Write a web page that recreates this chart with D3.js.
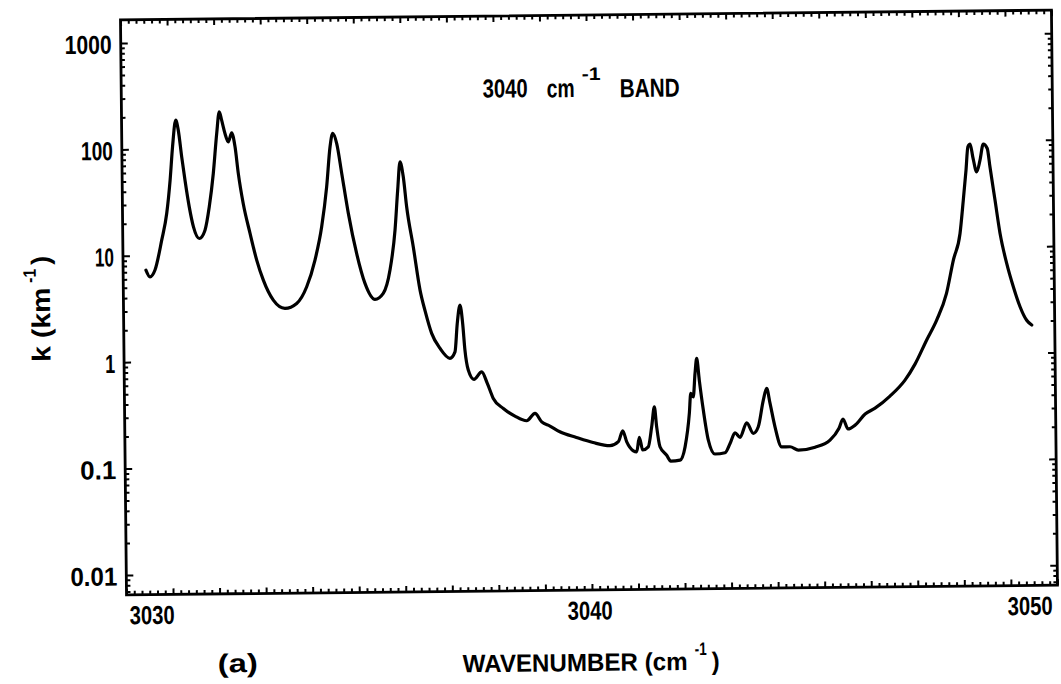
<!DOCTYPE html>
<html>
<head>
<meta charset="utf-8">
<script src="https://cdn.jsdelivr.net/npm/d3@7"></script>
<style>
  html, body { margin: 0; padding: 0; background: #fff; }
  svg { display: block; }
  text { font-family: "Liberation Sans", Arial, sans-serif; font-weight: bold; fill: #000; }
</style>
</head>
<body>
<svg id="chart" width="1061" height="684"></svg>
<script>
// Absorption coefficient spectrum of the 3040 cm-1 band
const wavenumber = [
  3030.49, 3030.576, 3030.685, 3030.836, 3030.95, 3031.03, 3031.09, 3031.164, 3031.216, 3031.284,
  3031.349, 3031.435, 3031.521, 3031.643, 3031.768, 3031.865, 3031.959, 3032.041, 3032.101, 3032.15,
  3032.219, 3032.288, 3032.363, 3032.432, 3032.496, 3032.595, 3032.735, 3032.872, 3033.01, 3033.22,
  3033.469, 3033.721, 3033.94, 3034.124, 3034.275, 3034.391, 3034.473, 3034.533, 3034.617, 3034.718,
  3034.851, 3035.02, 3035.193, 3035.404, 3035.583, 3035.733, 3035.85, 3035.916, 3035.972, 3036.039,
  3036.105, 3036.238, 3036.374, 3036.479, 3036.614, 3036.788, 3037.001, 3037.111, 3037.166, 3037.229,
  3037.282, 3037.325, 3037.392, 3037.512, 3037.68, 3037.798, 3037.923, 3038.137, 3038.384, 3038.636,
  3038.816, 3038.958, 3039.134, 3039.345, 3039.699, 3040.056, 3040.419, 3040.6, 3040.696, 3040.78,
  3040.92, 3040.992, 3041.051, 3041.121, 3041.241, 3041.319, 3041.381, 3041.426, 3041.493, 3041.635,
  3041.721, 3041.921, 3042.032, 3042.131, 3042.166, 3042.219, 3042.262, 3042.301, 3042.352, 3042.432,
  3042.533, 3042.672, 3042.889, 3042.999, 3043.108, 3043.214, 3043.362, 3043.502, 3043.609, 3043.723,
  3043.798, 3043.867, 3043.968, 3044.107, 3044.286, 3044.464, 3044.825, 3045.147, 3045.343, 3045.431,
  3045.536, 3045.688, 3045.907, 3046.122, 3046.445, 3046.771, 3046.99, 3047.246, 3047.465, 3047.682,
  3047.837, 3047.986, 3048.064, 3048.129, 3048.174, 3048.223, 3048.277, 3048.358, 3048.432, 3048.505,
  3048.59, 3048.644, 3048.745, 3048.846, 3048.982, 3049.119, 3049.259, 3049.398, 3049.506
];
const absorption = [
  7.3, 6.3, 7.3, 13.9, 24.9, 51, 105, 186, 150, 84,
  50.8, 28.4, 18.4, 14.3, 17.1, 28.3, 58.2, 138, 221, 184,
  138, 115, 140, 103, 58, 30.2, 15.8, 8.84, 5.72, 3.7,
  3.09, 3.43, 4.91, 8.73, 17.9, 42.5, 101, 135, 108, 56.6,
  23.8, 9.98, 5.21, 3.68, 4.18, 6.91, 16.4, 38.9, 71.8, 51.9,
  27.1, 11.4, 4.45, 2.82, 1.74, 1.26, 1.01, 1.16, 2.15, 3.19,
  2.14, 1.2, 0.78, 0.637, 0.748, 0.582, 0.42, 0.337, 0.285, 0.257,
  0.301, 0.25, 0.228, 0.201, 0.177, 0.158, 0.147, 0.16, 0.202, 0.159,
  0.131, 0.128, 0.175, 0.133, 0.142, 0.219, 0.337, 0.219, 0.142, 0.118,
  0.104, 0.106, 0.141, 0.29, 0.448, 0.415, 0.689, 0.953, 0.596, 0.311,
  0.162, 0.12, 0.123, 0.15, 0.189, 0.171, 0.234, 0.186, 0.214, 0.381,
  0.49, 0.354, 0.213, 0.138, 0.138, 0.128, 0.136, 0.158, 0.204, 0.248,
  0.2, 0.217, 0.275, 0.312, 0.404, 0.569, 0.802, 1.35, 2.07, 3.68,
  7.55, 13.4, 27.6, 52.8, 87.3, 92.5, 70.3, 50.7, 65.3, 92.3,
  83.9, 56.4, 27.4, 13.3, 6.94, 4.18, 2.71, 2.02, 1.82
];
const xTickValues = [3030, 3040, 3050];
const xTickLabels = ["3030", "3040", "3050"];
const yTickValues = [1000, 100, 10, 1, 0.1, 0.01];
const yTickLabels = ["1000", "100", "10", "1", "0.1", "0.01"];

// ---- layout ----
const frame = { left: 123.5, right: 1054.5, top: 15, bottom: 590 };
const x = d3.scaleLinear().domain([3030, 3050]).range([frame.left, frame.right]);
const y = d3.scaleLog().domain([0.0065, 1650]).range([frame.bottom, frame.top]);

// printed widths of the labels (the lettering is a narrow face)
const yLabelWidth = { "1000": 47, "100": 32, "10": 19, "1": 10, "0.1": 36, "0.01": 47 };
const xLabelWidth = 45;

const svg = d3.select("#chart");
const g = svg.append("g").attr("transform", "rotate(-0.6 590 305)");

// Text squeezed horizontally to a given printed width.
function fitText(parent, str, px, py, size, width, anchor) {
  const holder = parent.append("g");
  const t = holder.append("text")
    .attr("font-size", size)
    .attr("text-anchor", anchor || "start")
    .text(str);
  const len = t.node().getComputedTextLength() || width;
  holder.attr("transform", `translate(${px},${py}) scale(${(width / len).toFixed(4)},1)`);
  return t;
}

function tickRow(axisFn, scale, values, size, transform) {
  const a = g.append("g")
    .attr("transform", transform)
    .call(axisFn(scale).tickValues(values).tickSize(size).tickFormat(""));
  a.select(".domain").remove();
  a.selectAll("line").attr("stroke", "#000").attr("stroke-width", 2);
}

// x ticks: every 1/6 cm-1, longer at whole wavenumbers
const xMinor = d3.range(0, 121).map(i => 3030 + i / 6).filter(v => Math.abs(v - Math.round(v)) > 1e-6);
const xMajor = d3.range(3030, 3051);
// y ticks: 1..9 per decade, longer at decades
const yMinor = [];
for (let e = -3; e <= 3; e++) {
  for (let m = 2; m <= 9; m++) {
    const v = m * Math.pow(10, e);
    if (v > y.domain()[0] && v < y.domain()[1]) yMinor.push(v);
  }
}

tickRow(d3.axisBottom, x, xMinor, -4, `translate(0,${frame.bottom})`);
tickRow(d3.axisBottom, x, xMajor, -6, `translate(0,${frame.bottom})`);
tickRow(d3.axisTop, x, xMinor, -4, `translate(0,${frame.top})`);
tickRow(d3.axisTop, x, xMajor, -6, `translate(0,${frame.top})`);
tickRow(d3.axisLeft, y, yMinor, -4, `translate(${frame.left},0)`);
tickRow(d3.axisLeft, y, yTickValues, -7, `translate(${frame.left},0)`);
tickRow(d3.axisRight, y, yMinor, -4, `translate(${frame.right},0)`);
tickRow(d3.axisRight, y, yTickValues, -7, `translate(${frame.right},0)`);

// frame
g.append("rect")
  .attr("x", frame.left).attr("y", frame.top)
  .attr("width", frame.right - frame.left).attr("height", frame.bottom - frame.top)
  .attr("fill", "none").attr("stroke", "#000").attr("stroke-width", 2.8);

// spectrum
const points = wavenumber.map((w, i) => [w, absorption[i]]);
g.append("path")
  .datum(points)
  .attr("fill", "none")
  .attr("stroke", "#000")
  .attr("stroke-width", 3.2)
  .attr("stroke-linejoin", "round")
  .attr("stroke-linecap", "round")
  .attr("d", d3.line().x(d => x(d[0])).y(d => y(d[1])).curve(d3.curveMonotoneX));

// y tick labels
yTickValues.forEach((v, i) => {
  fitText(g, yTickLabels[i], frame.left - 9, y(v) + 10.5, 26, yLabelWidth[yTickLabels[i]], "end");
});

// x tick labels
const xAnchor = ["start", "middle", "end"];
const xShift = [3, -2, -5];
xTickValues.forEach((v, i) => {
  fitText(g, xTickLabels[i], x(v) + xShift[i], frame.bottom + 29.5, 26, xLabelWidth, xAnchor[i]);
});

// band title
fitText(g, "3040", 485, 96.5, 26, 45);
fitText(g, "cm", 549, 97, 26, 28);
fitText(g, "-1", 584, 80, 18, 19);
fitText(g, "BAND", 622, 97.5, 26, 60);

// x axis title
fitText(g, "WAVENUMBER (cm", 459, 671, 25, 225);
fitText(g, "-1", 691, 656, 18, 12);
fitText(g, ")", 708, 671, 25, 8);

// panel tag
fitText(g, "(a)", 214, 668.5, 26, 40);

// y axis title
const yt = g.append("g").attr("transform", "translate(50,356) rotate(-90)");
fitText(yt, "k (km", 0, 0, 26, 74);
fitText(yt, "-1", 79, -14, 18, 14);
fitText(yt, ")", 97, 0, 26, 9);
</script>
</body>
</html>
